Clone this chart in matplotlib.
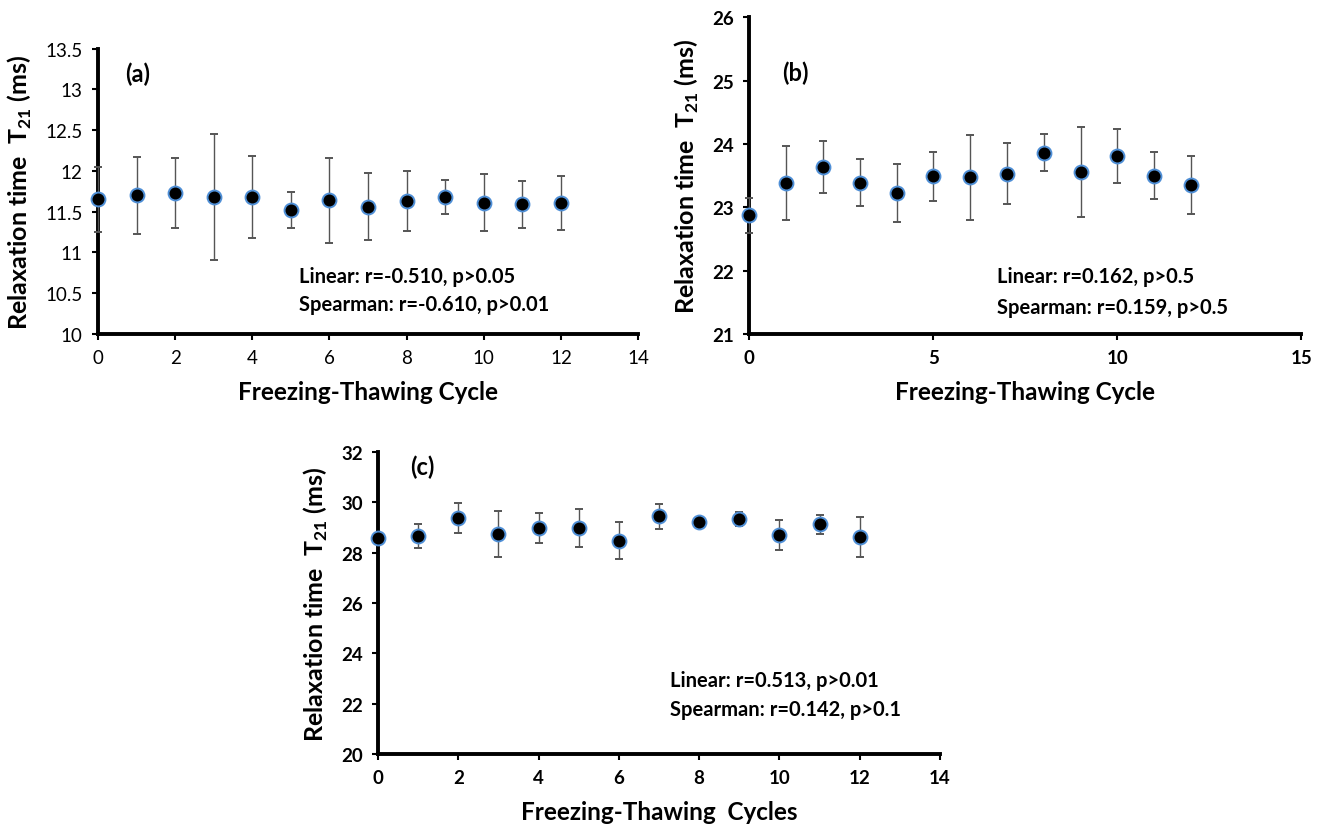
import matplotlib
matplotlib.use("Agg")
import matplotlib.pyplot as plt
import numpy as np

cycles = list(range(13))

t21_a = [11.65, 11.70, 11.73, 11.68, 11.68, 11.52, 11.64, 11.56, 11.63, 11.68, 11.61, 11.59, 11.61]
err_a = [0.40, 0.47, 0.43, 0.77, 0.50, 0.22, 0.52, 0.41, 0.37, 0.21, 0.35, 0.29, 0.33]

t21_b = [22.87, 23.38, 23.63, 23.39, 23.22, 23.49, 23.47, 23.53, 23.86, 23.56, 23.81, 23.50, 23.35]
err_b = [0.27, 0.58, 0.41, 0.37, 0.46, 0.39, 0.67, 0.48, 0.29, 0.71, 0.43, 0.37, 0.46]

t21_c = [28.58, 28.66, 29.38, 28.74, 28.97, 28.97, 28.48, 29.44, 29.21, 29.33, 28.70, 29.12, 28.61]
err_c = [0.10, 0.46, 0.58, 0.91, 0.60, 0.75, 0.72, 0.50, 0.10, 0.28, 0.58, 0.38, 0.80]

ticks_a_y = [10, 10.5, 11, 11.5, 12, 12.5, 13, 13.5]
ticks_a_x = [0, 2, 4, 6, 8, 10, 12, 14]
ticks_b_y = [21, 22, 23, 24, 25, 26]
ticks_b_x = [0, 5, 10, 15]
ticks_c_y = [20, 22, 24, 26, 28, 30, 32]
ticks_c_x = [0, 2, 4, 6, 8, 10, 12, 14]

stats_a = ["Linear: r=-0.510, p>0.05", "Spearman: r=-0.610, p>0.01"]
stats_b = ["Linear: r=0.162, p>0.5", "Spearman: r=0.159, p>0.5"]
stats_c = ["Linear: r=0.513, p>0.01", "Spearman: r=0.142, p>0.1"]

FAM = ['Lato', 'DejaVu Sans']
plt.rcParams['font.family'] = FAM
plt.rcParams['mathtext.fontset'] = 'custom'
plt.rcParams['mathtext.rm'] = 'Lato'
plt.rcParams['mathtext.bf'] = 'Lato:bold'

fig = plt.figure(figsize=(13.24, 8.29), dpi=100)

def panel(rect, y, e, xt, yt, xlab, label, lpos, stats, spos, sgap, tickbold):
    ax = fig.add_axes(rect)
    ax.errorbar(cycles, y, yerr=e, fmt='o', color='black', ms=10,
                mfc='black', mec='#4f8fd6', mew=1.4, ecolor='#555555',
                elinewidth=1.0, capsize=3, capthick=1.0, zorder=3, clip_on=False)
    ax.set_xlim(xt[0], xt[-1])
    ax.set_ylim(yt[0], yt[-1])
    ax.set_xticks(xt)
    ax.set_yticks(yt)
    ax.set_xticklabels([f"{v:g}" for v in xt])
    ax.set_yticklabels([f"{v:g}" for v in yt])
    for s in ['top', 'right']:
        ax.spines[s].set_visible(False)
    for s in ['left', 'bottom']:
        ax.spines[s].set_linewidth(2.8)
    ax.tick_params(axis='both', direction='out', length=4, width=1.5,
                   labelsize=13.5, pad=7)
    for lbl in ax.get_xticklabels() + ax.get_yticklabels():
        lbl.set_fontweight('bold' if tickbold else 'normal')
    ax.set_xlabel(xlab, fontsize=17.5, fontweight='bold', labelpad=10)
    ax.set_ylabel(r"Relaxation time  T$_{\mathbf{21}}$ (ms)", fontsize=18,
                  fontweight='bold', labelpad=8)
    ax.text(lpos[0], lpos[1], label, fontsize=17, fontweight='bold',
            ha='left', va='center')
    ax.text(spos[0], spos[1], stats[0], fontsize=14.5, fontweight='bold',
            ha='left', va='center')
    ax.text(spos[0], spos[1] - sgap, stats[1], fontsize=14.5, fontweight='bold',
            ha='left', va='center')
    return ax

panel([0.074, 0.596, 0.408, 0.344], t21_a, err_a, ticks_a_x, ticks_a_y,
      "Freezing-Thawing Cycle", "(a)", (0.7, 13.2), stats_a, (5.2, 10.71), 0.34, False)
panel([0.566, 0.596, 0.417, 0.382], t21_b, err_b, ticks_b_x, ticks_b_y,
      "Freezing-Thawing Cycle", "(b)", (0.9, 25.13), stats_b, (6.74, 21.91), 0.48, True)
panel([0.2855, 0.0893, 0.4245, 0.3643], t21_c, err_c, ticks_c_x, ticks_c_y,
      "Freezing-Thawing  Cycles", "(c)", (0.8, 31.44), stats_c, (7.27, 22.94), 1.15, True)

fig.savefig("out.png", dpi=100)
